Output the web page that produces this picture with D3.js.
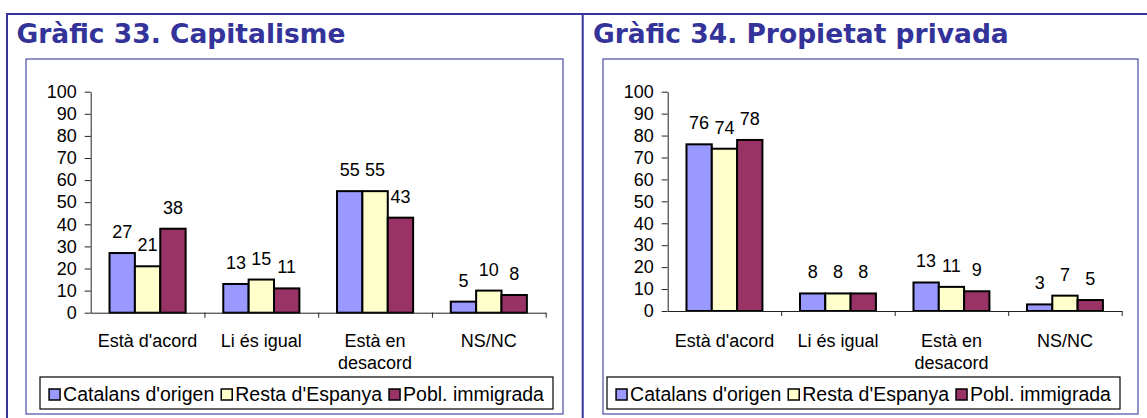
<!DOCTYPE html>
<html>
<head>
<meta charset="utf-8">
<script src="https://cdn.jsdelivr.net/npm/d3@7"></script>
<style>
  html, body { margin: 0; padding: 0; background: #fff; }
  svg { display: block; }
</style>
</head>
<body>
<svg id="chart" width="1147" height="418"></svg>
<script>
// ---------------- DATA ----------------
const categories = ["Està d'acord", "Li és igual", "Està en desacord", "NS/NC"];
const seriesNames = ["Catalans d'origen", "Resta d'Espanya", "Pobl. immigrada"];
const yTickValues = [0, 10, 20, 30, 40, 50, 60, 70, 80, 90, 100];

const chart33Title = "Gràfic 33. Capitalisme";
const chart33Catalans = [27, 13, 55, 5];
const chart33Resta = [21, 15, 55, 10];
const chart33Immigrada = [38, 11, 43, 8];

const chart34Title = "Gràfic 34. Propietat privada";
const chart34Catalans = [76, 8, 13, 3];
const chart34Resta = [74, 8, 11, 7];
const chart34Immigrada = [78, 8, 9, 5];

// ---------------- STYLE / LAYOUT ----------------
const seriesColors = ["#9999FF", "#FFFFCC", "#993366"];
const frameColor = "#333399";
const font = "'Liberation Sans', Arial, sans-serif";
const fontSize = 18;
const legendFontSize = 19.5;

const svg = d3.select("#chart");

// outer frame
const outer = svg.append("g");
outer.append("line").attr("x1", 7).attr("x2", 1147).attr("y1", 14).attr("y2", 14)
  .attr("stroke", frameColor).attr("stroke-width", 2);
[7, 582.7].forEach(x => outer.append("line").attr("x1", x).attr("x2", x).attr("y1", 13).attr("y2", 420)
  .attr("stroke", frameColor).attr("stroke-width", 2));

const panels = [
  { title: chart33Title, series: [chart33Catalans, chart33Resta, chart33Immigrada],
    titleX: 16.5, innerL: 26, innerR: 563, axisL: 90.7, axisR: 545.7, y0: 312.7, y100: 91.7,
    legL: 40, legR: 553 },
  { title: chart34Title, series: [chart34Catalans, chart34Resta, chart34Immigrada],
    titleX: 593, innerL: 603, innerR: 1138, axisL: 667.7, axisR: 1121.7, y0: 311, y100: 91.7,
    legL: 607, legR: 1120 }
];

function wrapLines(text, maxW, measureSel) {
  const words = text.split(" ");
  const lines = [];
  let cur = "";
  words.forEach(w => {
    const test = cur ? cur + " " + w : w;
    measureSel.text(test);
    if (cur && measureSel.node().getComputedTextLength() > maxW) {
      lines.push(cur); cur = w;
    } else cur = test;
  });
  if (cur) lines.push(cur);
  return lines;
}

panels.forEach(p => {
  const g = svg.append("g");

  // title
  g.append("text").attr("x", p.titleX).attr("y", 43)
    .attr("font-family", "'DejaVu Sans', Verdana, sans-serif")
    .attr("font-weight", "bold").attr("font-size", 26.5)
    .attr("fill", frameColor).text(p.title);

  // inner frame
  g.append("rect").attr("x", p.innerL).attr("y", 59)
    .attr("width", p.innerR - p.innerL).attr("height", 414 - 59)
    .attr("fill", "#fff").attr("stroke", "#4b4ba8").attr("stroke-width", 1.2);

  const x = d3.scaleBand().domain(categories).range([p.axisL, p.axisR])
    .paddingInner(0.331).paddingOuter(0.1655);
  const xs = d3.scaleBand().domain(d3.range(seriesNames.length)).range([0, x.bandwidth()]);
  const y = d3.scaleLinear().domain([0, 100]).range([p.y0, p.y100]);

  // bars
  p.series.forEach((vals, si) => {
    g.selectAll(null).data(vals).enter().append("rect")
      .attr("x", (d, i) => x(categories[i]) + xs(si))
      .attr("y", d => y(d))
      .attr("width", xs.bandwidth())
      .attr("height", d => y(0) - y(d))
      .attr("fill", seriesColors[si]).attr("stroke", "#000").attr("stroke-width", 2);
    g.selectAll(null).data(vals).enter().append("text")
      .attr("x", (d, i) => x(categories[i]) + xs(si) + xs.bandwidth() / 2)
      .attr("y", d => y(d) - 15)
      .attr("text-anchor", "middle")
      .attr("font-family", font).attr("font-size", fontSize).attr("fill", "#000")
      .text(d => d);
  });

  // y axis
  const yAxis = g.append("g").attr("transform", `translate(${p.axisL},0)`)
    .call(d3.axisLeft(y).tickValues(yTickValues).tickSize(6).tickSizeOuter(0).tickPadding(8));
  yAxis.selectAll("text").attr("font-family", font).attr("font-size", fontSize).attr("fill", "#000");
  yAxis.selectAll("line,path").attr("stroke", "#222");

  // x axis (category boundaries)
  const xb = d3.scaleLinear().domain([0, categories.length]).range([p.axisL, p.axisR]);
  const xAxis = g.append("g").attr("transform", `translate(0,${p.y0})`)
    .call(d3.axisBottom(xb).tickValues(d3.range(1, categories.length + 1)).tickFormat("")
      .tickSize(5).tickSizeOuter(0));
  xAxis.selectAll("line,path").attr("stroke", "#222");

  // category labels
  const measure = g.append("text").attr("font-family", font).attr("font-size", fontSize)
    .attr("visibility", "hidden");
  categories.forEach(c => {
    const lines = wrapLines(c, x.step(), measure);
    const t = g.append("text").attr("text-anchor", "middle")
      .attr("font-family", font).attr("font-size", fontSize).attr("fill", "#000");
    lines.forEach((ln, li) => {
      t.append("tspan").attr("x", x(c) + x.bandwidth() / 2).attr("y", 347 + li * 22).text(ln);
    });
  });
  measure.remove();

  // legend
  g.append("rect").attr("x", p.legL).attr("y", 377).attr("width", p.legR - p.legL).attr("height", 32)
    .attr("fill", "#fff").attr("stroke", "#000").attr("stroke-width", 1.2);
  const items = g.append("g");
  let cx = 0;
  seriesNames.forEach((n, i) => {
    const it = items.append("g").attr("transform", `translate(${cx},0)`);
    it.append("rect").attr("x", 0).attr("y", 389).attr("width", 11).attr("height", 11)
      .attr("fill", seriesColors[i]).attr("stroke", "#000").attr("stroke-width", 1.5);
    const t = it.append("text").attr("x", 14).attr("y", 401)
      .attr("font-family", font).attr("font-size", legendFontSize).attr("fill", "#000").text(n);
    cx += 14 + t.node().getComputedTextLength() + 7;
  });
  const total = cx - 7;
  items.attr("transform", `translate(${(p.legL + p.legR) / 2 - total / 2},0)`);
});
</script>
</body>
</html>
